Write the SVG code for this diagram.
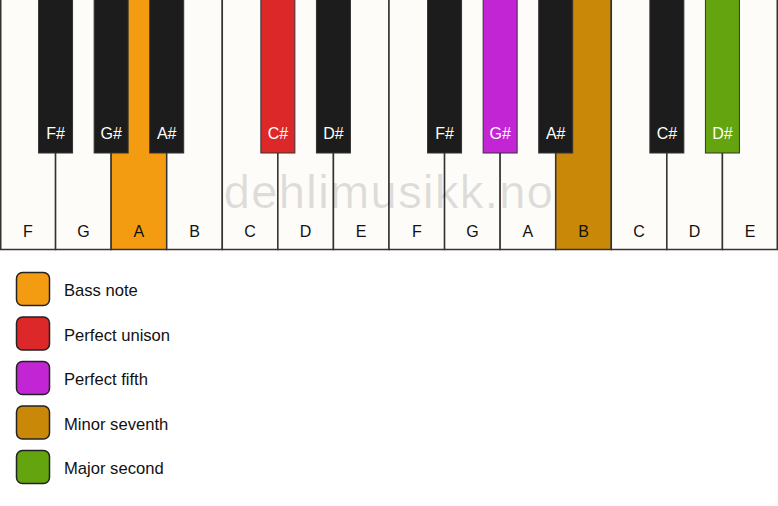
<svg xmlns="http://www.w3.org/2000/svg" width="778" height="506" viewBox="0 0 778 506">
<style>
.w{fill:#fdfcf9;stroke:#333;stroke-width:1.5}
.b{fill:#1c1c1c;stroke:#333;stroke-width:1}
.wl{font-family:"Liberation Sans",Arial,sans-serif;font-size:16px;fill:#111;text-anchor:middle}
.bl{font-family:"Liberation Sans",Arial,sans-serif;font-size:16px;fill:#fff;text-anchor:middle}
.lg{font-family:"Liberation Sans",Arial,sans-serif;font-size:16.6px;fill:#111}
.sw{stroke:#222;stroke-width:1.5}
.wm{font-family:"Liberation Sans",Arial,sans-serif;font-size:47px;letter-spacing:1.4px;fill:#000;fill-opacity:0.12;text-anchor:middle}
</style>
<rect x="0" y="0" width="778" height="506" fill="#fff"/>
<g id="white-keys">
<g id="wk-F1"><rect class="w" x="0.75" y="-1" width="54.82" height="250.5"/><text class="wl" x="27.79" y="237">F</text></g>
<g id="wk-G1"><rect class="w" x="55.57" y="-1" width="55.57" height="250.5"/><text class="wl" x="83.36" y="237">G</text></g>
<g id="wk-A1"><rect class="w" x="111.14" y="-1" width="55.57" height="250.5" style="fill:#f39c12"/><text class="wl" x="138.93" y="237">A</text></g>
<g id="wk-B1"><rect class="w" x="166.71" y="-1" width="55.57" height="250.5"/><text class="wl" x="194.5" y="237">B</text></g>
<g id="wk-C1"><rect class="w" x="222.29" y="-1" width="55.57" height="250.5"/><text class="wl" x="250.07" y="237">C</text></g>
<g id="wk-D1"><rect class="w" x="277.86" y="-1" width="55.57" height="250.5"/><text class="wl" x="305.64" y="237">D</text></g>
<g id="wk-E1"><rect class="w" x="333.43" y="-1" width="55.57" height="250.5"/><text class="wl" x="361.21" y="237">E</text></g>
<g id="wk-F2"><rect class="w" x="389" y="-1" width="55.57" height="250.5"/><text class="wl" x="416.79" y="237">F</text></g>
<g id="wk-G2"><rect class="w" x="444.57" y="-1" width="55.57" height="250.5"/><text class="wl" x="472.36" y="237">G</text></g>
<g id="wk-A2"><rect class="w" x="500.14" y="-1" width="55.57" height="250.5"/><text class="wl" x="527.93" y="237">A</text></g>
<g id="wk-B2"><rect class="w" x="555.71" y="-1" width="55.57" height="250.5" style="fill:#c98807"/><text class="wl" x="583.5" y="237">B</text></g>
<g id="wk-C2"><rect class="w" x="611.29" y="-1" width="55.57" height="250.5"/><text class="wl" x="639.07" y="237">C</text></g>
<g id="wk-D2"><rect class="w" x="666.86" y="-1" width="55.57" height="250.5"/><text class="wl" x="694.64" y="237">D</text></g>
<g id="wk-E2"><rect class="w" x="722.43" y="-1" width="54.82" height="250.5"/><text class="wl" x="750.21" y="237">E</text></g>
</g>
<text class="wm" x="389" y="208">dehlimusikk.no</text>
<g id="black-keys">
<g id="bk-Fs1"><rect class="b" x="38.57" y="-1" width="34" height="154"/><text class="bl" x="55.57" y="139">F#</text></g>
<g id="bk-Gs1"><rect class="b" x="94.14" y="-1" width="34" height="154"/><text class="bl" x="111.14" y="139">G#</text></g>
<g id="bk-As1"><rect class="b" x="149.71" y="-1" width="34" height="154"/><text class="bl" x="166.71" y="139">A#</text></g>
<g id="bk-Cs1"><rect class="b" x="260.86" y="-1" width="34" height="154" style="fill:#dc2828"/><text class="bl" x="277.86" y="139">C#</text></g>
<g id="bk-Ds1"><rect class="b" x="316.43" y="-1" width="34" height="154"/><text class="bl" x="333.43" y="139">D#</text></g>
<g id="bk-Fs2"><rect class="b" x="427.57" y="-1" width="34" height="154"/><text class="bl" x="444.57" y="139">F#</text></g>
<g id="bk-Gs2"><rect class="b" x="483.14" y="-1" width="34" height="154" style="fill:#c226d4"/><text class="bl" x="500.14" y="139">G#</text></g>
<g id="bk-As2"><rect class="b" x="538.71" y="-1" width="34" height="154"/><text class="bl" x="555.71" y="139">A#</text></g>
<g id="bk-Cs2"><rect class="b" x="649.86" y="-1" width="34" height="154"/><text class="bl" x="666.86" y="139">C#</text></g>
<g id="bk-Ds2"><rect class="b" x="705.43" y="-1" width="34" height="154" style="fill:#64a40e"/><text class="bl" x="722.43" y="139">D#</text></g>
</g>
<g id="connectors"></g>
<g id="legend">
<g id="lg-bass"><rect class="sw" x="16.5" y="272.5" width="33" height="33" rx="6" fill="#f39c12"/><text class="lg" x="64" y="296">Bass note</text></g>
<g id="lg-unison"><rect class="sw" x="16.5" y="317" width="33" height="33" rx="6" fill="#dc2828"/><text class="lg" x="64" y="340.5">Perfect unison</text></g>
<g id="lg-fifth"><rect class="sw" x="16.5" y="361.5" width="33" height="33" rx="6" fill="#c226d4"/><text class="lg" x="64" y="385">Perfect fifth</text></g>
<g id="lg-seventh"><rect class="sw" x="16.5" y="406" width="33" height="33" rx="6" fill="#c98807"/><text class="lg" x="64" y="429.5">Minor seventh</text></g>
<g id="lg-second"><rect class="sw" x="16.5" y="450.5" width="33" height="33" rx="6" fill="#64a40e"/><text class="lg" x="64" y="474">Major second</text></g>
</g>
</svg>
